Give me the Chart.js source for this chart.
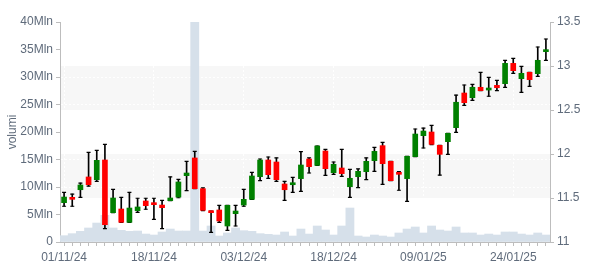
<!DOCTYPE html>
<html>
<head>
<meta charset="utf-8">
<script src="https://cdn.jsdelivr.net/npm/chart.js@4.4.1/dist/chart.umd.min.js"></script>
<style>
  body { margin: 0; background: #fff; }
  canvas { display: block; }
</style>
</head>
<body>
<canvas id="priceChart" width="600" height="270"></canvas>
<script>
// trading days (Borsa Italiana calendar)
const dates = [
    '01/11/24','04/11/24','05/11/24','06/11/24','07/11/24','08/11/24','11/11/24','12/11/24','13/11/24','14/11/24',
    '15/11/24','18/11/24','19/11/24','20/11/24','21/11/24','22/11/24','25/11/24','26/11/24','27/11/24','28/11/24',
    '29/11/24','02/12/24','03/12/24','04/12/24','05/12/24','06/12/24','09/12/24','10/12/24','11/12/24','12/12/24',
    '13/12/24','16/12/24','17/12/24','18/12/24','19/12/24','20/12/24','23/12/24','27/12/24','30/12/24','02/01/25',
    '03/01/25','06/01/25','07/01/25','08/01/25','09/01/25','10/01/25','13/01/25','14/01/25','15/01/25','16/01/25',
    '17/01/25','20/01/25','21/01/25','22/01/25','23/01/25','24/01/25','27/01/25','28/01/25','29/01/25','30/01/25'
];

const opens = [
    11.447, 11.500, 11.594, 11.739, 11.708, 11.932, 11.333, 11.375, 11.224, 11.356,
    11.466, 11.447, 11.420, 11.470, 11.511, 11.754, 11.955, 11.606, 11.352, 11.364,
    11.182, 11.322, 11.420, 11.485, 11.742, 11.932, 11.909, 11.659, 11.651, 11.720,
    11.943, 11.871, 12.034, 11.788, 11.841, 11.628, 11.742, 11.799, 11.924, 12.095,
    11.917, 11.792, 11.720, 11.970, 12.208, 12.250, 12.098, 12.140, 12.299, 12.693,
    12.640, 12.758, 12.727, 12.780, 12.799, 13.030, 12.856, 12.928, 12.913, 13.163
];
const highs = [
    11.565, 11.545, 11.670, 12.019, 12.042, 12.110, 11.599, 11.508, 11.565, 11.497,
    11.497, 11.497, 11.474, 11.739, 11.712, 11.917, 12.030, 11.614, 11.352, 11.417,
    11.417, 11.417, 11.599, 11.792, 11.943, 11.966, 11.955, 11.690, 11.735, 12.026,
    11.955, 12.091, 12.053, 11.909, 12.053, 11.826, 11.830, 11.955, 12.076, 12.133,
    11.917, 11.800, 11.974, 12.284, 12.295, 12.326, 12.098, 12.235, 12.670, 12.784,
    12.792, 12.928, 12.871, 12.837, 13.065, 13.087, 12.996, 12.928, 13.216, 13.307
];
const lows = [
    11.406, 11.406, 11.508, 11.636, 11.690, 11.151, 11.333, 11.224, 11.224, 11.337,
    11.372, 11.258, 11.151, 11.470, 11.503, 11.583, 11.606, 11.356, 11.110, 11.224,
    11.133, 11.182, 11.406, 11.485, 11.697, 11.724, 11.690, 11.474, 11.565, 11.576,
    11.784, 11.871, 11.758, 11.769, 11.746, 11.508, 11.617, 11.708, 11.803, 11.655,
    11.697, 11.588, 11.462, 11.970, 12.068, 12.106, 11.761, 11.996, 12.246, 12.553,
    12.610, 12.720, 12.656, 12.720, 12.758, 12.917, 12.701, 12.769, 12.883, 13.065
];
const closes = [
    11.511, 11.485, 11.648, 11.651, 11.928, 11.197, 11.500, 11.224, 11.386, 11.398,
    11.413, 11.424, 11.390, 11.500, 11.682, 11.784, 11.606, 11.360, 11.333, 11.239,
    11.417, 11.352, 11.485, 11.750, 11.932, 11.765, 11.708, 11.594, 11.670, 11.875,
    11.856, 12.091, 11.833, 11.883, 11.777, 11.724, 11.803, 11.917, 12.030, 11.890,
    11.697, 11.769, 11.974, 12.227, 12.261, 12.110, 11.996, 12.235, 12.588, 12.583,
    12.758, 12.720, 12.750, 12.753, 13.030, 12.947, 12.917, 12.845, 13.065, 13.178
];
// volumes in millions
const volumes = [
    1.15, 1.52, 1.94, 2.55, 3.45, 4.85, 2.55, 2.12, 1.94, 2.00,
    1.45, 1.27, 1.82, 2.36, 2.00, 2.00, 40.0, 2.00, 2.91, 1.09,
    1.64, 2.55, 2.06, 1.94, 1.52, 1.39, 1.27, 1.82, 1.09, 2.36,
    1.45, 2.91, 2.18, 1.27, 2.91, 6.18, 1.09, 0.91, 1.27, 1.09,
    0.91, 1.64, 2.36, 2.73, 1.64, 2.91, 2.18, 2.00, 2.73, 1.64,
    1.64, 1.27, 1.45, 1.27, 1.82, 1.82, 1.45, 1.27, 1.64, 1.27
];

const labelEvery = 11;
const textColor = '#5f6b7b';
const axisColor = '#bdbdbd';

Chart.defaults.font.family = '"Liberation Sans", Arial, sans-serif';
Chart.defaults.font.size = 12;
Chart.defaults.color = textColor;

// shaded bands between every other tick of the price axis
const bandPlugin = {
    id: 'bands',
    beforeDraw(chart) {
        const { ctx, chartArea, scales } = chart;
        const ticks = scales.y.ticks;
        ctx.save();
        ctx.fillStyle = '#f7f7f7';
        for (let i = 1; i + 1 < ticks.length; i += 2) {
            const top = scales.y.getPixelForValue(ticks[i + 1].value);
            const bottom = scales.y.getPixelForValue(ticks[i].value);
            ctx.fillRect(chartArea.left, top, chartArea.right - chartArea.left, bottom - top);
        }
        ctx.restore();
    }
};

const ctx = document.getElementById('priceChart').getContext('2d');
const chart = new Chart(ctx, {
    type: 'bar',
    data: {
        labels: dates,
        datasets: [
            {
                label: 'body',
                data: opens.map((o, i) => [o, closes[i]]),
                yAxisID: 'y',
                backgroundColor: opens.map((o, i) => closes[i] >= o ? '#008000' : '#ff0000'),
                barThickness: 5,
                minBarLength: 2,
                grouped: false,
                order: 1
            },
            {
                label: 'wick',
                data: lows.map((l, i) => [l, highs[i]]),
                yAxisID: 'y',
                backgroundColor: '#000',
                barThickness: 1,
                grouped: false,
                order: 2
            },
            {
                type: 'line',
                label: 'high',
                data: highs,
                yAxisID: 'y',
                showLine: false,
                pointStyle: 'line',
                pointRadius: 2,
                pointBorderColor: '#000',
                pointBorderWidth: 1.2,
                order: 3
            },
            {
                type: 'line',
                label: 'low',
                data: lows,
                yAxisID: 'y',
                showLine: false,
                pointStyle: 'line',
                pointRadius: 2,
                pointBorderColor: '#000',
                pointBorderWidth: 1.2,
                order: 3
            },
            {
                label: 'volumi',
                data: volumes,
                yAxisID: 'yVol',
                backgroundColor: '#d6e0ea',
                barPercentage: 1,
                categoryPercentage: 1,
                grouped: false,
                order: 10
            }
        ]
    },
    options: {
        responsive: false,
        animation: false,
        layout: { padding: { top: 22, right: 0, left: 0, bottom: 0 } },
        plugins: {
            legend: { display: false },
            tooltip: { enabled: false }
        },
        scales: {
            x: {
                offset: true,
                grid: {
                    offset: false,
                    color: (c) => c.index % labelEvery === 0 ? 'rgba(255,255,255,0.9)' : 'transparent',
                    tickColor: axisColor,
                    tickWidth: 1,
                    tickLength: 4
                },
                border: { color: axisColor, dash: [2, 2] },
                ticks: {
                    autoSkip: false,
                    maxRotation: 0,
                    padding: 4,
                    callback: function (value, index) {
                        return index % labelEvery === 0 ? dates[index] : '';
                    }
                },
                afterFit: (scale) => { scale.height = 28; }
            },
            yVol: {
                position: 'left',
                min: 0,
                max: 40,
                ticks: {
                    stepSize: 5,
                    padding: 3,
                    callback: (v) => v === 0 ? '0' : v + 'Mln'
                },
                title: { display: true, text: 'volumi', color: textColor, padding: { top: 5, bottom: 0 } },
                grid: {
                    color: 'rgba(255,255,255,0.9)',
                    tickColor: axisColor,
                    tickWidth: 1,
                    tickLength: 4
                },
                border: { color: axisColor, dash: [2, 2] },
                afterFit: (scale) => { scale.width = 60; }
            },
            y: {
                position: 'right',
                min: 11,
                max: 13.5,
                ticks: {
                    stepSize: 0.5,
                    padding: 3,
                    callback: (v) => String(v)
                },
                grid: {
                    drawOnChartArea: false,
                    tickColor: axisColor,
                    tickWidth: 1,
                    tickLength: 4
                },
                border: { color: axisColor },
                afterFit: (scale) => { scale.width = 50; }
            }
        }
    },
    plugins: [bandPlugin]
});
</script>
</body>
</html>
